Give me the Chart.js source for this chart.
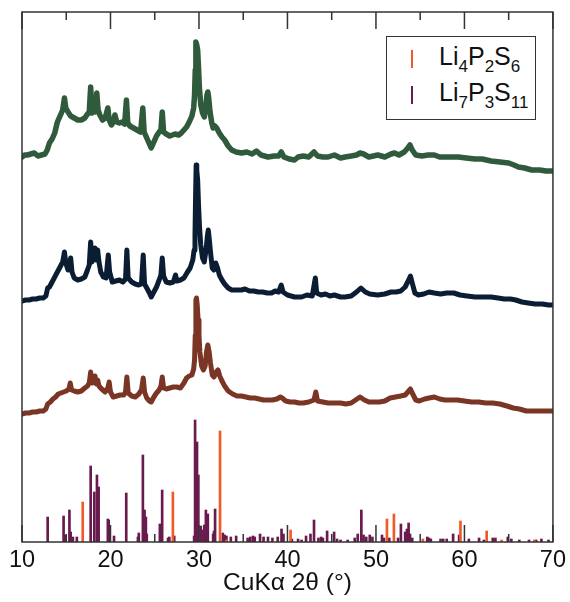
<!DOCTYPE html>
<html><head><meta charset="utf-8">
<script src="https://cdn.jsdelivr.net/npm/chart.js@4.4.1/dist/chart.umd.min.js"></script>
<style>
html,body{margin:0;padding:0;background:#fff;}
#wrap{position:relative;width:570px;height:602px;}
canvas{display:block;}
.legend{position:absolute;left:386px;top:36px;width:150px;height:84px;border:1.5px solid #333;box-sizing:border-box;background:#fff;font-family:"Liberation Sans",Arial,sans-serif;color:#111;}
.entry{position:absolute;left:0;width:100%;height:36px;}
.mark{position:absolute;left:24px;width:2px;height:18px;}
.txt{position:absolute;left:52px;font-size:25px;line-height:25px;white-space:nowrap;}
.txt sub{font-size:17px;vertical-align:baseline;position:relative;top:7px;}
</style></head>
<body>
<div id="wrap"><canvas id="c" width="570" height="602"></canvas><div class="legend" id="legend"></div></div>
<script>
// ---- x axis ----
const xMin = 10, xMax = 70;
const majorTicks = [10, 20, 30, 40, 50, 60, 70];
const minorTicks = [15, 25, 35, 45, 55, 65];
const xTitle = 'CuKα 2θ (°)';

// ---- measured patterns (2θ, intensity a.u.) ----
const patternTop = [[10.0,385],[10.3,387],[10.6,387],[11.0,388],[11.4,389],[11.8,386],[12.2,387],[12.6,388],[12.85,392],[13.1,399],[13.4,403],[13.7,409],[14.0,420],[14.3,426],[14.6,432],[14.8,444],[14.95,434],[15.2,430],[15.5,426],[15.9,424],[16.3,422],[16.7,422],[17.1,424],[17.4,428],[17.6,430],[17.76,455],[17.9,429],[18.1,432],[18.2,442],[18.3,430],[18.45,449],[18.6,432],[18.8,427],[19.1,422],[19.4,424],[19.7,434],[19.85,422],[20.1,417],[20.3,420],[20.5,427],[20.7,420],[21.0,419],[21.3,420],[21.6,418],[21.8,442],[21.95,419],[22.2,416],[22.6,414],[23.0,412],[23.4,410],[23.65,434],[23.8,410],[24.0,406],[24.3,400],[24.6,394],[24.9,400],[25.2,406],[25.5,410],[25.7,412],[25.85,430],[26.0,410],[26.3,408],[26.7,406],[27.0,407],[27.3,408],[27.7,407],[28.0,409],[28.3,412],[28.6,415],[28.9,420],[29.2,426],[29.4,434],[29.5,447],[29.58,472],[29.65,500],[29.75,497],[29.85,492],[29.95,474],[30.05,454],[30.2,437],[30.4,429],[30.6,425],[30.75,434],[30.9,447],[31.0,450],[31.1,444],[31.25,430],[31.45,419],[31.6,414],[31.8,416],[32.0,414],[32.3,409],[32.6,405],[32.9,402],[33.3,396],[33.7,392],[34.2,390],[34.8,389],[35.4,390],[36.0,388],[36.5,391],[37.0,387],[37.8,385],[38.5,386],[39.0,386],[39.3,390],[39.6,385],[40.2,383],[40.8,382],[41.2,385],[41.8,386],[42.4,385],[43.0,390],[43.4,386],[44.0,385],[44.6,385],[45.3,387],[46.0,384],[46.5,385],[47.2,386],[47.8,387],[48.2,389],[48.6,388],[49.2,385],[50.2,387],[51.0,385],[51.7,388],[52.1,389],[52.6,387],[53.2,390],[53.6,394],[53.85,397],[54.1,392],[54.5,387],[55.2,386],[55.9,387],[56.6,387],[57.2,385],[57.7,385],[58.5,385],[59.3,385],[60.2,384],[61.2,383],[62.0,383],[63.0,381],[64.0,380],[65.0,379],[65.6,377],[66.1,375],[66.8,374],[67.6,372],[68.5,372],[69.2,371],[70.0,371]];

const patternMiddle = [[10.0,241],[10.4,242],[10.8,242],[11.2,243],[11.6,243],[12.0,244],[12.4,244],[12.7,246],[12.9,254],[13.1,255],[13.4,260],[13.7,265],[14.0,270],[14.3,275],[14.6,280],[14.8,290],[14.95,279],[15.2,272],[15.5,284],[15.65,270],[15.9,264],[16.3,262],[16.7,263],[17.1,265],[17.4,272],[17.6,277],[17.76,300],[17.9,280],[18.1,284],[18.25,294],[18.4,282],[18.55,292],[18.7,280],[18.9,270],[19.2,265],[19.5,264],[19.75,287],[19.9,270],[20.2,260],[20.6,261],[21.0,262],[21.4,260],[21.7,263],[21.85,292],[22.0,264],[22.4,260],[22.8,258],[23.2,257],[23.5,258],[23.7,287],[23.85,258],[24.1,254],[24.4,249],[24.6,245],[24.9,250],[25.2,255],[25.5,262],[25.7,267],[25.85,284],[26.0,266],[26.3,260],[26.7,259],[27.1,260],[27.35,267],[27.5,261],[27.9,262],[28.3,264],[28.7,270],[29.0,274],[29.3,282],[29.45,292],[29.55,307],[29.62,347],[29.68,377],[29.75,372],[29.85,362],[29.95,337],[30.05,317],[30.2,297],[30.4,284],[30.6,280],[30.8,292],[30.95,306],[31.05,312],[31.15,304],[31.3,290],[31.5,274],[31.7,272],[31.9,279],[32.1,274],[32.3,267],[32.6,262],[32.9,258],[33.3,254],[33.7,252],[34.2,252],[34.8,252],[35.2,253],[35.7,251],[36.2,251],[36.7,250],[37.2,250],[37.7,249],[38.2,249],[38.6,251],[39.0,250],[39.3,257],[39.5,250],[40.0,247],[40.8,245],[41.6,245],[42.2,247],[42.8,246],[43.15,264],[43.3,249],[43.8,247],[44.3,248],[44.8,246],[45.3,247],[46.0,245],[46.5,245],[47.2,246],[47.8,250],[48.3,254],[48.8,250],[49.3,248],[50.2,247],[51.0,248],[51.7,250],[52.3,250],[52.8,251],[53.3,255],[53.7,262],[53.9,266],[54.1,259],[54.4,249],[54.8,247],[55.4,248],[56.0,250],[56.6,249],[57.3,248],[58.0,249],[58.8,249],[59.5,247],[60.3,246],[61.2,245],[62.0,245],[63.0,245],[63.8,244],[64.5,243],[65.2,243],[65.8,242],[66.5,240],[67.2,239],[68.0,238],[68.8,238],[69.5,237],[70.0,237]];

const patternBottom = [[10.0,128],[10.4,129],[10.8,129],[11.2,130],[11.6,130],[12.0,131],[12.4,131],[12.7,133],[12.9,138],[13.2,140],[13.5,143],[13.8,145],[14.1,148],[14.4,149],[14.7,150],[15.0,151],[15.3,153],[15.45,159],[15.6,152],[15.9,151],[16.3,150],[16.7,151],[17.1,154],[17.4,156],[17.6,159],[17.76,170],[17.9,159],[18.1,160],[18.25,166],[18.4,158],[18.55,162],[18.7,156],[19.0,153],[19.4,150],[19.7,154],[19.85,160],[20.0,150],[20.3,145],[20.7,146],[21.1,147],[21.5,147],[21.7,150],[21.85,165],[22.0,149],[22.4,146],[22.8,145],[23.2,148],[23.5,152],[23.7,164],[23.85,150],[24.1,144],[24.4,141],[24.6,140],[24.9,145],[25.2,149],[25.5,152],[25.7,156],[25.85,165],[26.0,154],[26.3,153],[26.7,154],[27.1,155],[27.5,155],[27.9,154],[28.3,159],[28.6,164],[28.9,166],[29.2,167],[29.4,173],[29.5,182],[29.58,207],[29.65,242],[29.72,244],[29.8,237],[29.9,222],[30.0,207],[30.1,190],[30.3,176],[30.5,172],[30.7,176],[30.85,190],[31.0,197],[31.15,190],[31.3,179],[31.5,167],[31.7,165],[31.95,170],[32.15,172],[32.35,166],[32.6,161],[32.9,156],[33.3,151],[33.8,148],[34.3,146],[34.8,146],[35.3,145],[35.8,144],[36.3,144],[36.8,143],[37.3,142],[37.8,142],[38.3,142],[38.8,143],[39.2,145],[39.4,144],[39.8,141],[40.3,140],[40.8,140],[41.3,139],[41.8,139],[42.4,140],[43.0,142],[43.2,150],[43.4,141],[44.0,140],[44.6,139],[45.3,139],[46.0,139],[46.6,138],[47.2,139],[47.7,142],[48.2,145],[48.7,142],[49.2,140],[49.8,140],[50.4,140],[51.0,141],[51.6,144],[52.2,145],[52.8,146],[53.3,147],[53.7,151],[53.9,153],[54.1,149],[54.5,142],[54.9,141],[55.5,143],[56.0,144],[56.6,145],[57.2,143],[57.8,142],[58.5,142],[59.2,142],[60.0,141],[60.8,140],[61.6,140],[62.4,139],[63.2,139],[64.0,138],[64.8,136],[65.5,134],[66.2,133],[67.0,131],[68.0,131],[69.0,131],[70.0,131]];

// ---- reference reflections (2θ, relative intensity) ----
const refLi4P2S6 = [[16.86,40],[27.05,50],[32.38,111],[33.1,2],[40.35,12],[51.24,23],[52.03,28],[55.3,3],[59.55,21],[62.51,11],[64.2,2],[67.9,2]];
const refLi7P3S11 = [[12.9,25],[14.7,26],[14.85,7],[15.36,32],[15.5,10],[15.75,5],[16.2,5],[17.76,76],[18.17,50],[18.47,67],[18.66,55],[19.7,23],[19.8,22],[20.4,6],[21.78,49],[23.1,5],[23.2,9],[23.66,87],[23.85,32],[24.0,25],[24.1,8],[25.58,18],[25.84,52],[26.5,4],[26.65,5],[27.2,6],[29.45,6],[29.56,122],[29.78,100],[29.93,67],[30.2,16],[30.3,12],[30.6,17],[30.78,32],[31.0,28],[31.6,8],[31.7,11],[31.82,33],[32.7,9],[32.9,7],[33.1,6],[33.6,5],[34.2,6],[35.5,4],[35.8,5],[36.1,6],[36.3,5],[36.9,8],[37.3,5],[37.8,5],[38.3,4],[38.9,5],[39.33,13],[39.55,8],[40.5,3],[41.2,3],[41.6,2],[42.1,6],[42.6,8],[43.0,22],[43.5,4],[43.8,5],[44.0,4],[44.48,11],[45.27,10],[45.6,3],[46.0,2],[46.8,2],[47.6,4],[47.94,8],[48.35,32],[48.6,7],[48.9,5],[49.3,7],[49.6,5],[50.68,7],[50.9,4],[51.5,4],[52.5,4],[52.82,18],[53.3,10],[53.5,13],[53.69,19],[53.85,8],[54.1,4],[55.8,5],[56.0,4],[56.2,3],[57.3,3],[57.6,3],[58.0,3],[58.72,8],[59.4,7],[60.5,3],[61.65,4],[62.2,2],[63.2,4],[63.5,4],[64.9,5],[65.3,3],[66.2,2],[67.3,2],[68.1,2],[68.7,3],[69.5,2]];

const toXY = arr => arr.map(([x, y]) => ({x, y}));

const lineDs = (data, color, w) => ({
  type: 'line', data: toXY(data), borderColor: color, backgroundColor: color,
  borderWidth: w, pointRadius: 0, tension: 0, fill: false, order: 1, showInLegend: false,
  borderJoinStyle: 'round', borderCapStyle: 'round'
});
const stickDs = (label, data, color) => ({
  type: 'bar', label, data: toXY(data), backgroundColor: color, borderWidth: 0,
  barThickness: 2, grouped: false, order: 2, showInLegend: true
});

const datasets = [
  lineDs(patternTop, '#2f5a3b', 5.5),
  lineDs(patternMiddle, '#0b1d33', 5),
  lineDs(patternBottom, '#7a3524', 5),
  stickDs('Li4P2S6', refLi4P2S6, '#f05a28'),
  stickDs('Li7P3S11', refLi7P3S11, '#6a1b4e')
];

const frame = {
  id: 'frame',
  afterDraw(chart) {
    const {ctx, chartArea: a, scales: {x}} = chart;
    ctx.save();
    ctx.strokeStyle = '#333';
    ctx.lineWidth = 1.5;
    ctx.beginPath();
    const tick = (v, len) => {
      const p = x.getPixelForValue(v);
      ctx.moveTo(p, a.top); ctx.lineTo(p, a.top + len);
      ctx.moveTo(p, a.bottom); ctx.lineTo(p, a.bottom - len);
    };
    majorTicks.forEach(v => tick(v, 17));
    minorTicks.forEach(v => tick(v, 8));
    ctx.stroke();
    ctx.strokeRect(a.left, a.top, a.right - a.left, a.bottom - a.top);
    ctx.restore();
  }
};

const chart = new Chart(document.getElementById('c'), {
  type: 'line',
  data: {datasets},
  options: {
    responsive: false, animation: false,
    layout: {padding: {left: 22, right: 17, top: 12, bottom: 0}},
    plugins: {legend: {display: false}, tooltip: {enabled: false}},
    scales: {
      x: {
        type: 'linear', min: xMin, max: xMax, offset: false,
        grid: {display: false, drawTicks: false}, border: {display: false},
        ticks: {stepSize: 10, color: '#111', padding: 4, maxRotation: 0,
                font: {family: 'Liberation Sans', size: 23.5}},
        title: {display: true, text: xTitle, color: '#111', padding: {top: 0, bottom: 4},
                font: {family: 'Liberation Sans', size: 24.5}},
        afterFit: s => { s.height = 60; }
      },
      y: {display: false, min: 0, max: 530}
    }
  },
  plugins: [frame]
});

// legend built from the stick datasets
const legend = document.getElementById('legend');
const tops = [6, 42];
datasets.filter(d => d.showInLegend).forEach((d, i) => {
  const e = document.createElement('div');
  e.className = 'entry';
  e.style.top = tops[i] + 'px';
  const m = document.createElement('span');
  m.className = 'mark'; m.style.top = '7px'; m.style.background = d.backgroundColor;
  const t = document.createElement('span');
  t.className = 'txt'; t.style.top = '1px';
  t.innerHTML = d.label.replace(/(\d+)/g, '<sub>$1</sub>');
  e.appendChild(m); e.appendChild(t);
  legend.appendChild(e);
});
</script>
</body></html>
